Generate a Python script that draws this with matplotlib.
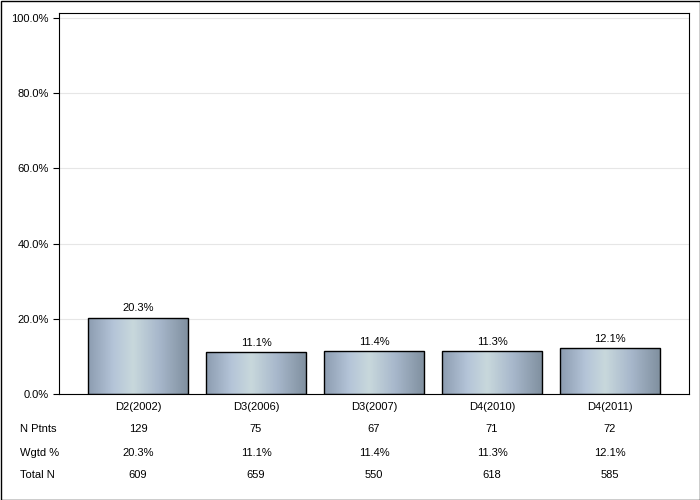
import numpy as np
import matplotlib.pyplot as plt
from matplotlib.colors import LinearSegmentedColormap
from matplotlib.patches import Rectangle

categories = ['D2(2002)', 'D3(2006)', 'D3(2007)', 'D4(2010)', 'D4(2011)']
pct = [20.3, 11.1, 11.4, 11.3, 12.1]
n_ptnts = ['129', '75', '67', '71', '72']
wgtd = ['20.3%', '11.1%', '11.4%', '11.3%', '12.1%']
total_n = ['609', '659', '550', '618', '585']

plt.rcParams['font.family'] = ['Liberation Sans', 'DejaVu Sans']

fig = plt.figure(figsize=(7, 5), dpi=100)
ax = fig.add_axes([59 / 700, 1 - 394 / 500, 630 / 700, 381 / 500])

# gradient fill for bars
cmap = LinearSegmentedColormap.from_list('bar', [
    (0.0, '#8c9cb0'), (0.25, '#b4c4d8'), (0.45, '#c8d8dc'),
    (0.7, '#a8b8cc'), (1.0, '#7f8f9e')])
grad = np.linspace(0, 1, 256).reshape(1, -1)

x = np.arange(len(categories))
w = 0.85
for xi, v in zip(x, pct):
    rect = Rectangle((xi - w / 2, 0), w, v, facecolor='none',
                     edgecolor='black', linewidth=1, zorder=3)
    ax.add_patch(rect)
    im = ax.imshow(grad, cmap=cmap, aspect='auto',
                   extent=(xi - w / 2, xi + w / 2, 0, v), zorder=2)
    im.set_clip_path(rect)
    ax.text(xi, v + 1.2, f'{v:.1f}%', ha='center', va='bottom', fontsize=8)

ax.set_xlim(-0.67, 4.67)
ax.set_ylim(0, 101.3)
ax.set_yticks([0, 20, 40, 60, 80, 100])
ax.set_yticklabels([f'{t:.1f}%' for t in [0, 20, 40, 60, 80, 100]], fontsize=8)
ax.set_xticks(x)
ax.set_xticklabels(categories, fontsize=8)
ax.tick_params(axis='x', length=0, pad=6)
ax.tick_params(axis='y', length=4)
ax.grid(axis='y', color='#e6e6e6', linewidth=0.8, zorder=0)
ax.set_axisbelow(True)

# table rows below the axis
rows = [('N Ptnts', n_ptnts, 429), ('Wgtd %', wgtd, 453), ('Total N', total_n, 475)]
for label, vals, ypix in rows:
    yf = 1 - ypix / 500
    fig.text(20 / 700, yf, label, ha='left', va='center', fontsize=8)
    for xi, s in zip(x, vals):
        xd = ax.transData.transform((xi, 0))[0] / fig.dpi / fig.get_figwidth()
        fig.text(xd, yf, s, ha='center', va='center', fontsize=8)

# outer border
fig.patches.append(Rectangle((0.5 / 700, 0.5 / 500), 699 / 700, 499 / 500,
                             transform=fig.transFigure, fill=False,
                             edgecolor='black', linewidth=1))

fig.savefig('out.png', dpi=100)
